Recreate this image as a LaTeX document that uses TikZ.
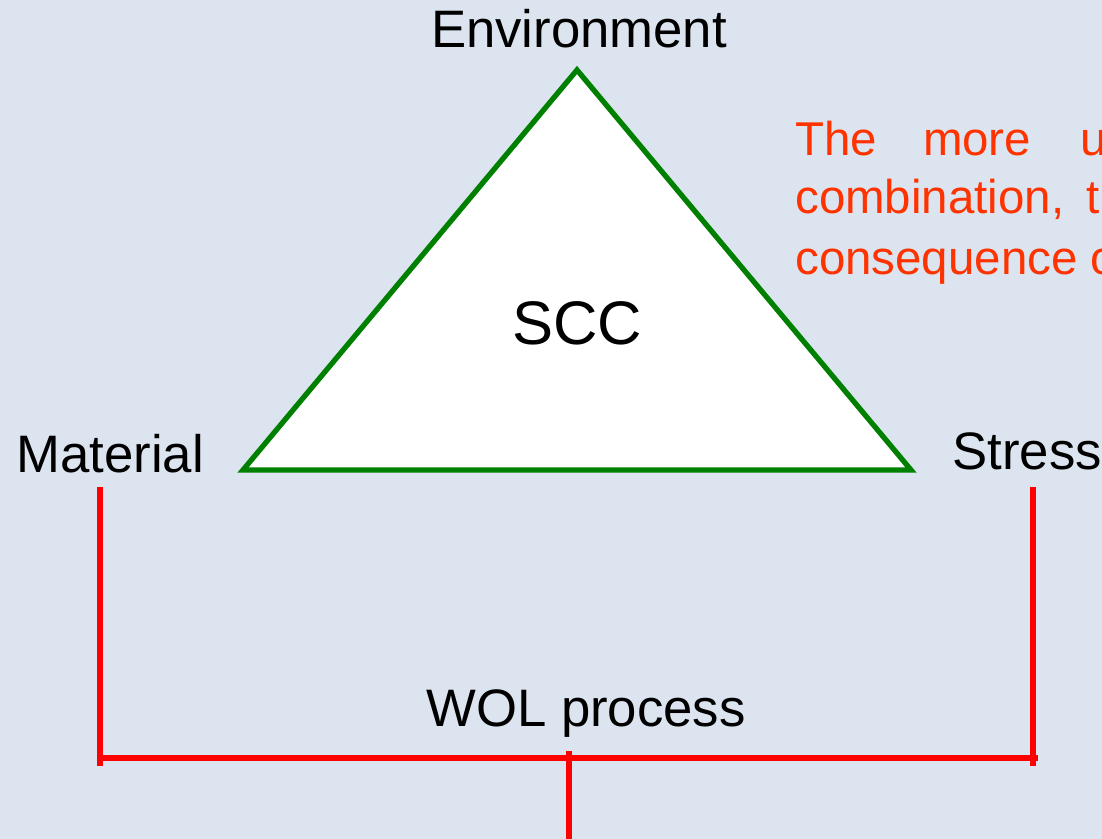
\documentclass[tikz,border=0pt]{standalone}
\usepackage{fontspec}
\setmainfont{Liberation Sans}
\usetikzlibrary{positioning}
\definecolor{slidebg}{RGB}{220,228,239}
\definecolor{trigreen}{RGB}{0,128,0}
\definecolor{notered}{RGB}{255,51,0}
\definecolor{linkred}{RGB}{255,0,0}

\tikzset{
  corner/.style={font=\fontsize{30}{36}\selectfont, anchor=base},
  note/.style={font=\fontsize{27}{33}\selectfont, text=notered, anchor=base west, inner sep=0pt},
  link/.style={draw=linkred, line width=3.4pt}
}

\begin{document}
\begin{tikzpicture}
    % Page and background
    \useasboundingbox (0,0) rectangle (22.04,16.78);
    \clip (0,0) rectangle (22.04,16.78);
    \fill[slidebg] (0,0) rectangle (22.04,16.78);

    % Triangle
    \coordinate (top) at (11.54,15.38);
    \coordinate (lft) at (4.86,7.38);
    \coordinate (rgt) at (18.22,7.38);
    \filldraw[fill=white, draw=trigreen, line width=3pt, line join=miter]
      (top) -- (lft) -- (rgt) -- cycle;
    \node[font=\fontsize{35}{42}\selectfont, anchor=base] (scc) at (11.54,9.88) {SCC};

    % Corner labels
    \node[corner] (env) at (11.58,15.82) {Environment};
    \node[corner, anchor=base west, inner sep=0pt] (mat) at (0.32,7.32) {Material};
    \node[corner, anchor=base west, inner sep=0pt] (str) at (19.04,7.38) {Stress};

    % Red note
    \node[note] (l1) at (15.9,13.66) {The\hspace{0.92cm}more\hspace{0.98cm}u};
    \node[note] (l2) at (15.9,12.50) {combination,\hspace{0.45cm}th};
    \node[note] (l3) at (15.9,11.28) {consequence o};

    % WOL process bracket
    \coordinate (matTop) at (2.0,7.04);
    \coordinate (matBot) at (2.0,1.46);
    \coordinate (strTop) at (20.66,7.04);
    \coordinate (strBot) at (20.66,1.46);
    \coordinate (barL) at (2.0,1.62);
    \coordinate (barR) at (20.76,1.62);
    \coordinate (stemTop) at (11.38,1.76);
    \coordinate (stemBot) at (11.38,-0.2);
    \draw[link] (matTop) -- (matBot);
    \draw[link] (strTop) -- (strBot);
    \draw[link] (barL) -- (barR);
    \draw[link] (stemTop) -- (stemBot);
    \node[corner] (wol) at (11.72,2.24) {WOL process};
\end{tikzpicture}
\end{document}
